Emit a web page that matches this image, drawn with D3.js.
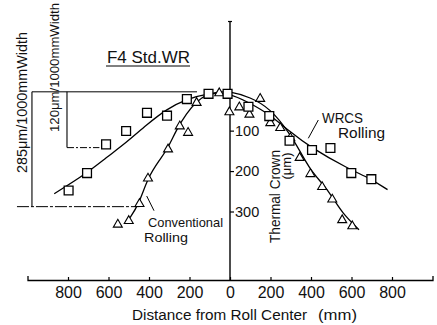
<!DOCTYPE html>
<html>
<head>
<meta charset="utf-8">
<script src="https://cdn.jsdelivr.net/npm/d3@7"></script>
<style>
body { margin: 0; background: #fff; }
svg { display: block; font-family: "Liberation Sans", Arial, sans-serif; }
</style>
</head>
<body>
<div id="chart"></div>
<script>
// distance from roll center (mm) and thermal crown (um)
var wrcsDist = [-797, -706, -612, -513, -410, -311, -213, -106, -12, 91, 194, 294, 405, 496, 599, 698];
var wrcsCrown = [248, 205, 134, 101, 56, 63, 22, 9, 9, 41, 64, 125, 148, 143, 205, 220];
var convDist = [-554, -500, -447, -405, -306, -248, -207, -165, -53, -3, 46, 96, 149, 199, 248, 298, 344, 397, 455, 505, 554, 604];
var convCrown = [329, 320, 278, 215, 143, 86, 102, 28, 4, 51, 39, 57, 18, 78, 90, 115, 164, 204, 236, 267, 318, 333];

// fitted curves
var wrcsLineDist = [-868, -706, -612, -513, -413, -314, -215, -116, -10, 99, 199, 294, 397, 579, 695, 778];
var wrcsLineCrown = [256, 205, 167, 130, 86, 47, 22, 9, 5, 32, 61, 102, 141, 193, 219, 246];
var convLineDist = [-516, -496, -447, -405, -347, -306, -265, -215, -165, -116, -58, 0, 99, 199, 294, 347, 397, 455, 505, 554, 637];
var convLineCrown = [325, 319, 278, 215, 172, 143, 98, 57, 28, 10, 4, 3, 17, 45, 106, 152, 197, 230, 263, 304, 345];

// crown brackets on the left (um) and where they stand (mm)
var bracketLabels = ["285\u03bcm/1000mmWidth", "120\u03bcm/1000mmWidth"];
var bracketTop = 4;
var bracketBottom = [288, 142];
var bracketDist = [-978, -805];
var bracketEnd = [-447, -645];
var bracketStart = [-1052, -805];
var topLineEnd = -163;

var xTicks = [-800, -600, -400, -200, 0, 200, 400, 600, 800];
var yTicks = [100, 200, 300];

var W = 437, H = 325;
var axisY = 280, axisTop = 21.5;

var x = d3.scaleLinear().domain([-1000, 1000]).range([27.5, 432.5]);
var y = d3.scaleLinear().domain([0, 300]).range([90.2, 211.5]);

var svg = d3.select("#chart").append("svg")
    .attr("width", W)
    .attr("height", H);

// x axis
var xAxis = d3.axisBottom(x)
    .tickValues(xTicks)
    .tickSizeInner(-3)
    .tickSizeOuter(-4)
    .tickPadding(7)
    .tickFormat(function (d) { return Math.abs(d); });

var gx = svg.append("g")
    .attr("transform", "translate(0," + axisY + ")")
    .call(xAxis);
gx.attr("font-family", null).attr("font-size", null);
gx.select(".domain").attr("stroke-width", 1.3);
gx.selectAll(".tick line").attr("stroke-width", 1.2);
gx.selectAll(".tick text").attr("font-size", 16).attr("fill", "#111");

// y axis (ticks to the right of the center line)
var yAxis = d3.axisRight(y)
    .tickValues(yTicks)
    .tickSize(4)
    .tickPadding(1);
var gy = svg.append("g")
    .attr("transform", "translate(" + x(0) + ",0)")
    .call(yAxis);
gy.attr("font-family", null).attr("font-size", null);
gy.select(".domain").remove();
gy.selectAll(".tick line").attr("stroke-width", 1.2);
gy.selectAll(".tick text").attr("font-size", 14.5).attr("fill", "#111");

svg.append("line")
    .attr("x1", x(0)).attr("x2", x(0))
    .attr("y1", axisTop).attr("y2", axisY)
    .attr("stroke", "#000")
    .attr("stroke-width", 1.4);
svg.append("line")
    .attr("x1", x(0) - 2).attr("x2", x(0) + 2)
    .attr("y1", axisTop).attr("y2", axisTop)
    .attr("stroke", "#000")
    .attr("stroke-width", 1.2);

// brackets
svg.append("line")
    .attr("x1", x(bracketDist[0])).attr("x2", x(topLineEnd))
    .attr("y1", y(bracketTop)).attr("y2", y(bracketTop))
    .attr("stroke", "#000").attr("stroke-width", 1);

bracketBottom.forEach(function (b, i) {
    svg.append("line")
        .attr("x1", x(bracketDist[i])).attr("x2", x(bracketDist[i]))
        .attr("y1", y(bracketTop)).attr("y2", y(b))
        .attr("stroke", "#000").attr("stroke-width", 1.1);
    svg.append("line")
        .attr("x1", x(bracketStart[i])).attr("x2", x(bracketEnd[i]))
        .attr("y1", y(b)).attr("y2", y(b))
        .attr("stroke", "#000").attr("stroke-width", 1)
        .attr("stroke-dasharray", i === 0 ? "12,2,3,2" : "7,2,2,2");
});

function rotLabel(txt, bx, by, size, len) {
    svg.append("text")
        .attr("transform", "translate(" + bx + "," + by + ") rotate(-90)")
        .attr("font-size", size)
        .attr("fill", "#111")
        .attr("textLength", len)
        .attr("lengthAdjust", "spacingAndGlyphs")
        .text(txt);
}
rotLabel(bracketLabels[0], 26.5, 173, 14, 141);
rotLabel(bracketLabels[1], 59, 132, 13.5, 129);

// curves
var line = d3.line()
    .x(function (d) { return x(d[0]); })
    .y(function (d) { return y(d[1]); })
    .curve(d3.curveBasis);

svg.append("path")
    .attr("d", line(d3.zip(wrcsLineDist, wrcsLineCrown)))
    .attr("fill", "none")
    .attr("stroke", "#000")
    .attr("stroke-width", 1.3);
svg.append("path")
    .attr("d", line(d3.zip(convLineDist, convLineCrown)))
    .attr("fill", "none")
    .attr("stroke", "#000")
    .attr("stroke-width", 1.3);

// points
var sq = d3.symbol().type(d3.symbolSquare).size(78);
var tri = d3.symbol().type(d3.symbolTriangle).size(35);

svg.append("g").selectAll("path")
    .data(d3.zip(convDist, convCrown))
    .enter().append("path")
    .attr("d", tri)
    .attr("transform", function (d) { return "translate(" + x(d[0]) + "," + (y(d[1]) + 1.3) + ")"; })
    .attr("fill", "#fff")
    .attr("stroke", "#000")
    .attr("stroke-width", 1.1);

svg.append("g").selectAll("path")
    .data(d3.zip(wrcsDist, wrcsCrown))
    .enter().append("path")
    .attr("d", sq)
    .attr("transform", function (d) { return "translate(" + x(d[0]) + "," + y(d[1]) + ")"; })
    .attr("fill", "#fff")
    .attr("stroke", "#000")
    .attr("stroke-width", 1.3);

// labels
function label(txt, lx, ly, size, len) {
    var t = svg.append("text")
        .attr("x", lx).attr("y", ly)
        .attr("font-size", size)
        .attr("fill", "#111")
        .text(txt);
    if (len) t.attr("textLength", len).attr("lengthAdjust", "spacingAndGlyphs");
    return t;
}

label("F4 Std.WR", 107, 63, 17, 83);
svg.append("line")
    .attr("x1", 106).attr("x2", 190)
    .attr("y1", 66).attr("y2", 66)
    .attr("stroke", "#000").attr("stroke-width", 1);

label("WRCS", 322, 123, 14, 41);
label("Rolling", 338, 138, 14, 47);
svg.append("line")
    .attr("x1", 318.3).attr("y1", 120)
    .attr("x2", 308.3).attr("y2", 138.3)
    .attr("stroke", "#000").attr("stroke-width", 1);

label("Conventional", 148, 227, 13, 75);
label("Rolling", 144, 242, 13.5, 44);
svg.append("line")
    .attr("x1", 146.7).attr("y1", 196)
    .attr("x2", 154).attr("y2", 210.7)
    .attr("stroke", "#000").attr("stroke-width", 1);

rotLabel("Thermal Crown", 280, 243, 14, 93);
svg.append("text")
    .attr("transform", "translate(291,166) rotate(-90)")
    .attr("text-anchor", "middle")
    .attr("font-size", 13)
    .attr("fill", "#111")
    .text("(\u03bcm)");

label("Distance from Roll Center", 132, 320, 14, 175);
label("(mm)", 318, 320, 14, 39);
</script>
</body>
</html>
